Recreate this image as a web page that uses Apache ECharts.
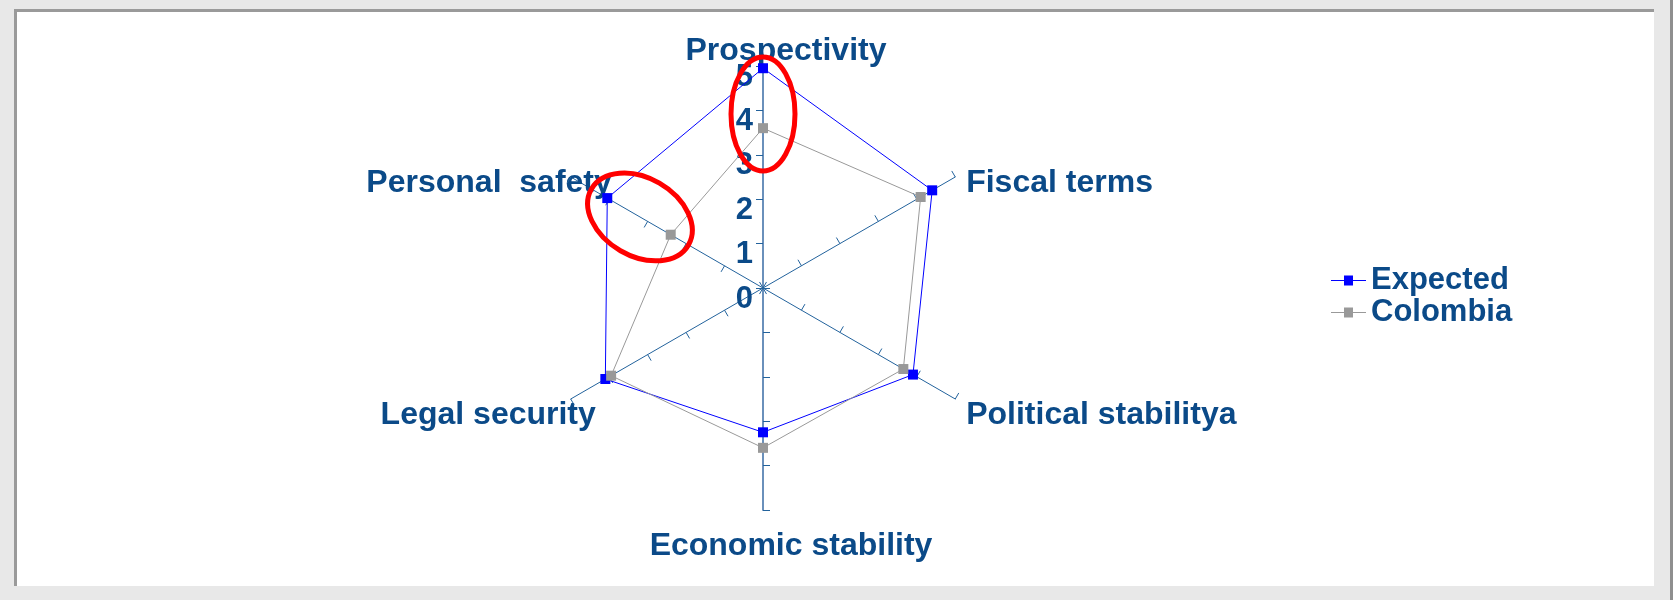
<!DOCTYPE html>
<html>
<head>
<meta charset="utf-8">
<title>Radar</title>
<script src="https://cdn.jsdelivr.net/npm/echarts@6/dist/echarts.min.js"></script>
<style>
body{
	margin: 0;
	background: #e8e8e8;
}
.panel{
	position: absolute;
	left: 14px;
	top: 9px;
	width: 1640px;
	height: 577px;
	box-sizing: border-box;
	background: #fff;
	border-top: 3px solid #9a9a9a;
	border-left: 3px solid #9a9a9a;
}
.edge{
	position: absolute;
	left: 1670px;
	top: 0;
	width: 3px;
	height: 600px;
	background: #8f8f8f;
}
#chart{
	position: absolute;
	left: 0;
	top: 0;
	width: 1673px;
	height: 600px;
}
</style>
</head>
<body>
<div class="panel"></div>
<div class="edge"></div>
<div id="chart"></div>
<script>
// indicators go counter-clockwise from the top
let indicators = ['Prospectivity', 'Personal  safety', 'Legal security', 'Economic stability', 'Political stabilitya', 'Fiscal terms'];
let expected = [4.95, 4.05, 4.1, 3.25, 3.9, 4.4];
let colombia = [3.6, 2.4, 3.95, 3.6, 3.65, 4.1];
let maxValue = 5;

// red circled areas: which axis, and around which value
let marks = [
	{axis: 0, value: 3.92, along: 57, across: 32},
	{axis: 1, value: 3.2, along: 56, across: 39},
];

let textColor = '#0b4a88';
let axisColor = '#22629c';
let center = [763, 288];
let radius = 222;

// per-name nudges, Excel does not place them like echarts does
let nameStyles = [
	{padding: [0, 0, 0, 46], verticalAlign: 'bottom', lineHeight: 14},
	{padding: [0, -48, 0, 0], verticalAlign: 'top', lineHeight: 20},
	{padding: [0, -32, 0, 0], verticalAlign: 'top', lineHeight: 24},
	{padding: [12, 0, 0, 56]},
	{padding: [0, 0, 0, 4], verticalAlign: 'top', lineHeight: 24},
	{padding: [0, 0, 0, 4], verticalAlign: 'top', lineHeight: 20},
];

let myChart = echarts.init(document.getElementById('chart'));

let indicatorList = [];
indicators.forEach(function(name, i){
	let item = {
		name: name,
		min: 0,
		max: maxValue,
		nameMoveOverlap: false,
		nameTextStyle: nameStyles[i],
	};
	if(i === 0){
		// only the vertical axis carries the value labels
		item.axisLabel = {
			show: true,
			color: textColor,
			fontSize: 31,
			fontWeight: 'bold',
			fontFamily: 'Liberation Sans',
			margin: 10,
			verticalAlign: 'top',
			lineHeight: 22,
		};
	}
	if(i === 0 || i === 3){
		// the vertical line is drawn wider and lighter
		item.axisLine = {lineStyle: {color: '#6a90bb', width: 2}};
	}
	indicatorList.push(item);
})

// ellipse positions worked out from the radar scale
let graphics = [];
marks.forEach(function(m){
	let angle = Math.PI / 2 + m.axis * Math.PI * 2 / indicators.length;
	let r = m.value / maxValue * radius;
	graphics.push({
		type: 'ellipse',
		x: center[0] + r * Math.cos(angle),
		y: center[1] - r * Math.sin(angle),
		rotation: angle,
		shape: {cx: 0, cy: 0, rx: m.along, ry: m.across},
		style: {fill: 'none', stroke: '#ff0000', lineWidth: 5},
		z: 100,
	});
})

myChart.setOption({
	animation: false,
	textStyle: {fontFamily: 'Liberation Sans'},
	legend: {
		orient: 'vertical',
		left: 1331,
		top: 265,
		itemWidth: 35,
		itemHeight: 10,
		itemGap: 1,
		padding: 0,
		data: [
			{name: 'Expected', icon: 'path://M0,4.5H35V5.5H0Z M13,0H22V10H13Z'},
			{name: 'Colombia', icon: 'path://M0,4.5H35V5.5H0Z M13,0H22V10H13Z'},
		],
		textStyle: {
			color: textColor,
			fontSize: 31,
			fontWeight: 'bold',
			fontFamily: 'Liberation Sans',
		},
	},
	radar: {
		center: center,
		radius: radius,
		startAngle: 90,
		splitNumber: 5,
		shape: 'polygon',
		nameGap: 8,
		axisName: {
			color: textColor,
			fontSize: 32,
			fontWeight: 'bold',
			fontFamily: 'Liberation Sans',
		},
		axisLine: {lineStyle: {color: axisColor, width: 1}},
		axisTick: {show: true, length: 7, lineStyle: {color: axisColor}},
		axisLabel: {show: false},
		splitLine: {show: false},
		splitArea: {show: false},
		indicator: indicatorList,
	},
	series: [{
		type: 'radar',
		symbol: 'rect',
		symbolSize: 10,
		data: [
			{
				name: 'Expected',
				value: expected,
				itemStyle: {color: '#0000ff'},
				lineStyle: {color: '#0000ff', width: 1},
			},
			{
				name: 'Colombia',
				value: colombia,
				itemStyle: {color: '#999999'},
				lineStyle: {color: '#999999', width: 1},
			},
		],
	}],
	graphic: graphics,
})
</script>
</body>
</html>
